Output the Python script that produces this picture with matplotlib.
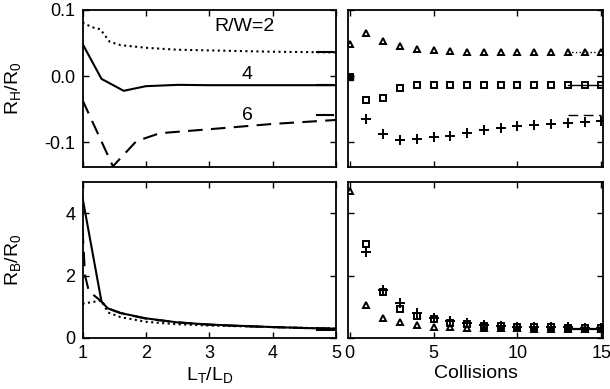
import matplotlib
matplotlib.use("Agg")
import matplotlib.pyplot as plt

# top-left: R_H/R_0 vs L_T/L_D
lt_dot = [1.0, 1.15, 1.28, 1.43, 1.6, 1.8, 2.0, 2.5, 3.0, 4.0, 5.0]
rh_dot = [0.081, 0.074, 0.071, 0.052, 0.047, 0.045, 0.043, 0.040, 0.039, 0.037, 0.036]
lt_sol = [1.0, 1.3, 1.65, 2.0, 2.5, 3.0, 4.0, 5.0]
rh_sol = [0.049, -0.004, -0.022, -0.015, -0.013, -0.0135, -0.0135, -0.0135]
lt_dash = [1.0, 1.48, 1.85, 2.22, 3.0, 4.0, 5.0]
rh_dash = [-0.036, -0.136, -0.098, -0.086, -0.080, -0.072, -0.066]

# bottom-left: R_B/R_0 vs L_T/L_D
lb_dot = [1.0, 1.3, 1.4, 1.6, 2.0, 2.5, 3.0, 4.0, 5.0]
rb_dot = [1.1, 1.2, 0.82, 0.67, 0.52, 0.44, 0.40, 0.35, 0.30]
lb_sol = [1.0, 1.3, 1.4, 1.6, 2.0, 2.5, 3.0, 3.5, 4.0, 4.5, 5.0]
rb_sol = [4.5, 1.16, 0.95, 0.80, 0.63, 0.50, 0.43, 0.39, 0.35, 0.32, 0.30]
lb_dash = [1.0, 1.04, 1.1, 1.3, 1.4, 1.6, 2.0, 2.5, 3.0, 3.5, 4.0, 4.5, 5.0]
rb_dash = [3.5, 2.0, 1.5, 1.17, 0.95, 0.80, 0.62, 0.50, 0.43, 0.38, 0.35, 0.32, 0.30]

# asymptotic values (short stubs)
rh_lim = [0.036, -0.0125, -0.058]
rb_lim = [0.30, 0.30, 0.30]

# right panels: vs collisions
coll = list(range(16))
rh_tri = [0.049, 0.066, 0.053, 0.046, 0.041, 0.039, 0.038, 0.037, 0.036,
          0.036, 0.036, 0.036, 0.036, 0.036, 0.036, 0.036]
rh_sq = [-0.001, -0.036, -0.033, -0.0185, -0.0135, -0.0125, -0.0125, -0.0125,
         -0.0125, -0.0125, -0.0125, -0.0125, -0.0125, -0.0125, -0.0125, -0.0125]
rh_plus = [-0.001, -0.0645, -0.0875, -0.096, -0.095, -0.092, -0.0895, -0.085,
           -0.081, -0.0775, -0.075, -0.0735, -0.0715, -0.070, -0.069, -0.067]
rb_tri = [4.7, 1.06, 0.65, 0.50, 0.42, 0.36, 0.34, 0.33, 0.32, 0.31, 0.31,
          0.30, 0.30, 0.30, 0.30, 0.30]
rb_sq = [None, 3.0, 1.46, 0.93, 0.70, 0.60, 0.49, 0.45, 0.40, 0.37, 0.35,
         0.34, 0.34, 0.33, 0.33, 0.33]
rb_plus = [None, 2.76, 1.54, 1.11, 0.81, 0.65, 0.54, 0.47, 0.42, 0.39, 0.36,
           0.35, 0.34, 0.34, 0.33, 0.33]

plt.rcParams['font.family'] = ['Liberation Sans', 'DejaVu Sans']
plt.rcParams['mathtext.default'] = 'regular'
plt.rcParams['axes.unicode_minus'] = False

fig = plt.figure(figsize=(6.1, 3.89), dpi=100)
W, H = 610.0, 389.0


def make_ax(x0, x1, y0, y1):
    return fig.add_axes([x0 / W, 1 - y1 / H, (x1 - x0) / W, (y1 - y0) / H])


ax_tl = make_ax(82.5, 336, 10, 167)
ax_tr = make_ax(348, 603, 10, 167)
ax_bl = make_ax(82.5, 336, 182, 338)
ax_br = make_ax(348, 603, 182, 338)

for ax in (ax_tl, ax_tr, ax_bl, ax_br):
    ax.tick_params(direction='in', top=True, right=True, length=4, width=1,
                   labelsize=13, pad=5)
    for s in ax.spines.values():
        s.set_linewidth(1.3)

lw = 1.5
styles = [':', '-', (0, (7, 4))]

# top left
ax_tl.plot(lt_dot, rh_dot, color='k', ls=':', lw=lw)
ax_tl.plot(lt_sol, rh_sol, color='k', ls='-', lw=lw)
ax_tl.plot(lt_dash, rh_dash, color='k', ls=(0, (7, 4)), lw=lw)
for v in rh_lim:
    ax_tl.plot([4.7, 4.95], [v, v], color='k', ls='-', lw=lw)
ax_tl.set_xlim(1, 5)
ax_tl.set_ylim(-0.137, 0.1)
ax_tl.set_yticks([-0.1, 0.0, 0.1])
ax_tl.set_yticklabels(['-0.1', '0.0', '0.1'])
ax_tl.set_xticks([1, 2, 3, 4, 5])
ax_tl.set_xticklabels([])
ax_tl.text(3.56, 0.075, 'R/W=2', fontsize=14, ha='center', va='center')
ax_tl.text(3.59, 0.003, '4', fontsize=14, ha='center', va='center')
ax_tl.text(3.61, -0.060, '6', fontsize=14, ha='center', va='center')
ax_tl.set_ylabel(r'R$_H$/R$_0$', fontsize=14)
ax_tl.yaxis.set_label_coords(-0.235, 0.5)

# bottom left
ax_bl.plot(lb_dot, rb_dot, color='k', ls=':', lw=lw)
ax_bl.plot(lb_sol, rb_sol, color='k', ls='-', lw=lw)
ax_bl.plot(lb_dash, rb_dash, color='k', ls=(0, (7, 4)), lw=lw)
for v in rb_lim:
    ax_bl.plot([4.7, 4.95], [v, v], color='k', ls='-', lw=2)
ax_bl.set_xlim(1, 5)
ax_bl.set_ylim(0, 5)
ax_bl.set_yticks([0, 2, 4])
ax_bl.set_xticks([1, 2, 3, 4, 5])
ax_bl.set_ylabel(r'R$_B$/R$_0$', fontsize=14)
ax_bl.yaxis.set_label_coords(-0.235, 0.5)
ax_bl.set_xlabel(r'L$_T$/L$_D$', fontsize=14, labelpad=2)

# top right
mk = dict(color='k', ls='none', mfc='none', mew=1.4)
ax_tr.plot(coll, rh_tri, marker='^', ms=5, **mk)
ax_tr.plot(coll, rh_sq, marker='s', ms=5, **mk)
ax_tr.plot(coll[1:], rh_plus[1:], marker='+', ms=7, **mk)
ax_tr.plot(coll[0], rh_sq[0], marker='s', ms=5, color='k', ls='none')
for v, st in zip(rh_lim, styles):
    ax_tr.plot([13, 15], [v, v], color='k', ls=st, lw=1.0)
ax_tr.set_xlim(-0.1, 15.1)
ax_tr.set_ylim(-0.137, 0.1)
ax_tr.set_yticks([-0.1, 0.0, 0.1])
ax_tr.set_yticklabels([])
ax_tr.set_xticks([0, 5, 10, 15])
ax_tr.set_xticklabels([])

# bottom right
ax_br.plot(coll, rb_tri, marker='^', ms=5, **mk)
ax_br.plot(coll, rb_sq, marker='s', ms=5, **mk)
ax_br.plot(coll, rb_plus, marker='+', ms=7, **mk)
for v, st in zip(rb_lim, styles):
    ax_br.plot([13, 15], [v, v], color='k', ls=st, lw=1.5)
ax_br.set_xlim(-0.1, 15.1)
ax_br.set_ylim(0, 5)
ax_br.set_yticks([0, 2, 4])
ax_br.set_yticklabels([])
ax_br.set_xticks([0, 5, 10, 15])
ax_br.set_xlabel('Collisions', fontsize=14, labelpad=2)

fig.savefig('out.png', dpi=100)
